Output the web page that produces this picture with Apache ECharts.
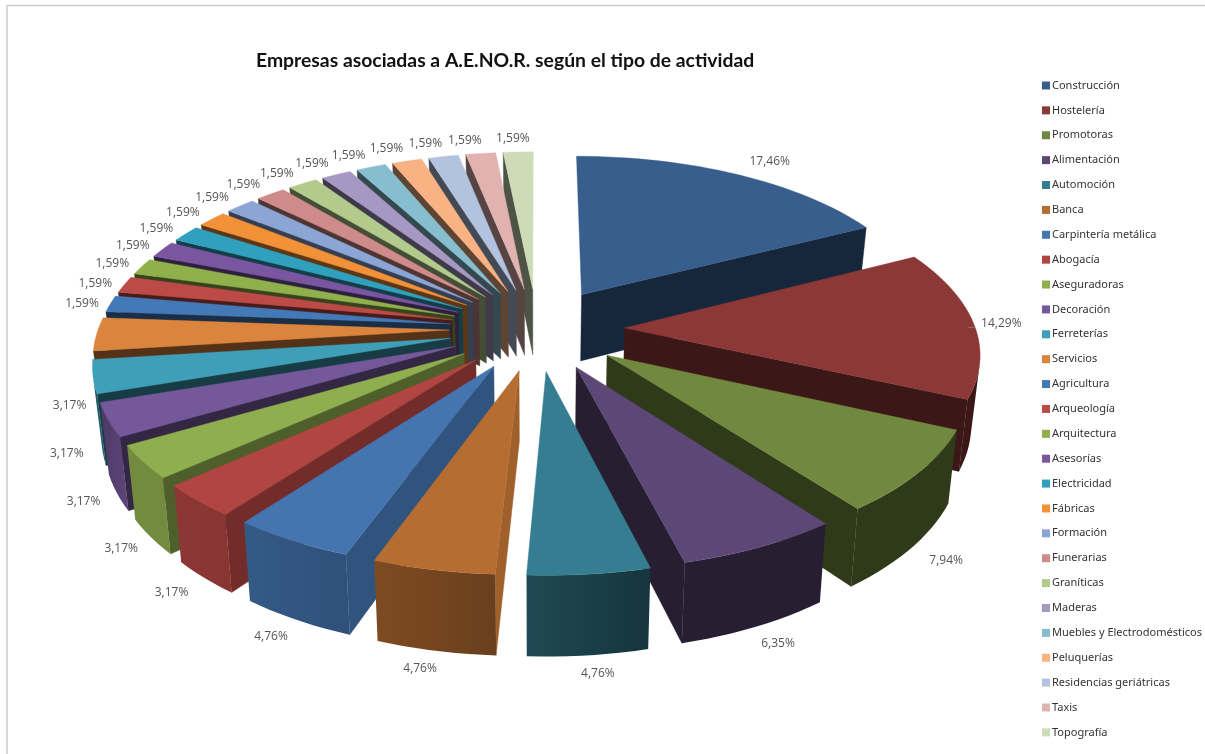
<!DOCTYPE html>
<html><head><meta charset="utf-8">
<style>html,body{margin:0;padding:0;background:#fff}#c{width:1205px;height:754px}</style>
<script src="https://cdn.jsdelivr.net/npm/echarts@6/dist/echarts.min.js"></script>
</head><body><div id="c"></div>
<script>
const categories = ['Construcción','Hostelería','Promotoras','Alimentación','Automoción','Banca','Carpintería metálica','Abogacía','Aseguradoras','Decoración','Ferreterías','Servicios','Agricultura','Arqueología','Arquitectura','Asesorías','Electricidad','Fábricas','Formación','Funerarias','Graníticas','Maderas','Muebles y Electrodomésticos','Peluquerías','Residencias geriátricas','Taxis','Topografía'];
const values = [11,9,5,4,3,3,3,2,2,2,2,2,1,1,1,1,1,1,1,1,1,1,1,1,1,1,1];
const colors = ['#375E8C','#8C3836','#71893F','#5C4776','#357D91','#B66D31','#4475B0','#B04542','#8FAE4E','#75589A','#3F9FB8','#DB843D','#4479B8','#BC4A47','#8FB04A','#7A55A0','#30A0BF','#F39138','#8BA5D4','#CE8B89','#B2CA8C','#A698C2','#86BDCF','#F8B283','#B2C3E0','#E2B2B1','#CDDCB6'];
const titleText = 'Empresas asociadas a A.E.NO.R. según el tipo de actividad';

const total = values.reduce((a,b)=>a+b,0);
let acc = 0;
const angles = values.map(v=>{const s=acc; acc+=v; return [s/total*2*Math.PI, acc/total*2*Math.PI];});

// projection of the tilted pie
const CX=537, CY=329, RX=351, RY=165, EXPL=0.25, PERSP=0.131, HEIGHT=68, BOTTOM=0.98;
function proj(u,v,down){
  const w=1/(1-PERSP*v);
  return [CX+u*w*RX*(down?BOTTOM:1), CY+v*w*RY+(down?HEIGHT*w:0)];
}
function shade(hex,f){
  const n=parseInt(hex.slice(1),16);
  const c=[n>>16,(n>>8)&255,n&255].map(x=>Math.round(x*f));
  return 'rgb('+c.join(',')+')';
}
function area(p){let s=0;for(let i=0;i<p.length;i++){const a=p[i],b=p[(i+1)%p.length];s+=a[0]*b[1]-b[0]*a[1];}return s/2;}
function lit(t){ // brightness of an outer wall from its facing direction
  const d=t*180/Math.PI;
  if(d<178) return 0.42;
  if(d<184) return 0.42+(d-178)/6*0.2;
  if(d<225) return 0.62+(d-184)/41*0.18;
  if(d<245) return 0.8;
  if(d<262) return 0.8-(d-245)/17*0.4;
  return 0.42;
}
function radialLit(mid){ // brightness of a start wall on the left half
  const d=mid*180/Math.PI;
  if(d<200) return 0.88;
  if(d<215) return 0.72;
  if(d<255) return 0.72-(d-215)/40*0.36;
  return 0.38;
}
const depthOrder = angles.map((a,i)=>[-Math.cos((a[0]+a[1])/2),i]).sort((a,b)=>a[0]-b[0]).map(x=>x[1]);
const rank = []; depthOrder.forEach((idx,r)=>rank[idx]=r);

function renderSlice(i){
  return function(params,api){
    const val=api.value(0);
    const [a0,a1]=angles[i], mid=(a0+a1)/2;
    const au=EXPL*Math.sin(mid), av=-EXPL*Math.cos(mid);
    const col=colors[i], kids=[];
    const P=(t,d)=>proj(au+Math.sin(t),av-Math.cos(t),d);
    const A=d=>proj(au,av,d);
    const poly=(pts,fill)=>kids.push({type:'polygon',shape:{points:pts},style:{fill:fill,stroke:fill,lineWidth:0.4}});
    // radial walls facing the viewer
    const q0=[A(false),P(a0,false),P(a0,true),A(true)];
    const q1=[A(false),A(true),P(a1,true),P(a1,false)];
    if(mid>Math.PI && area(q0)<0) poly(q0,shade(col,radialLit(mid)));
    if(mid<Math.PI && area(q1)<0) poly(q1,shade(col,0.42));
    // outer wall, as one piece over its visible part
    const n=Math.max(2,Math.ceil((a1-a0)/(Math.PI/90)));
    const up=[],dn=[]; let ts=null,te=null;
    for(let k=0;k<n;k++){
      const t0=a0+(a1-a0)*k/n,t1=a0+(a1-a0)*(k+1)/n;
      const q=[P(t0,false),P(t1,false),P(t1,true),P(t0,true)];
      if(area(q)<0){
        if(ts===null){ts=t0;up.push(P(t0,false));dn.push(P(t0,true));}
        te=t1;up.push(P(t1,false));dn.push(P(t1,true));
      }
    }
    if(ts!==null){
      const pts=up.concat(dn.reverse());
      const xa=P(ts,false)[0],xb=P(te,false)[0];
      const fill=new echarts.graphic.LinearGradient(xa<xb?0:1,0,xa<xb?1:0,0,[
        {offset:0,color:shade(col,lit(ts))},{offset:1,color:shade(col,lit(te))}]);
      kids.push({type:'polygon',shape:{points:pts},style:{fill:fill}});
    }
    // top
    const top=[A(false)];
    for(let k=0;k<=n;k++) top.push(P(a0+(a1-a0)*k/n,false));
    poly(top,col);
    // label
    const u=au+Math.sin(mid),v=av-Math.cos(mid);
    const side=Math.abs(mid-Math.PI/2)<0.1;
    const lt=proj(u,v,false), lb=proj(u,v,v>0&&!side);
    const c=Math.cos(mid);
    let extra=0;
    if(mid<Math.PI/2) extra=21*c;
    else if(mid>1.5*Math.PI) extra=-12*c*Math.min(1,(2*Math.PI-mid)/0.15);
    else if(mid<Math.PI&&!side) extra=6;
    else if(mid>Math.PI&&mid<1.3*Math.PI) extra=-8;
    kids.push({type:'text',z2:50,x:lt[0]+27*Math.sin(mid)+extra,y:lb[1]-15*c+(v>0?3:0)+(mid>1.5*Math.PI?2:0),
      style:{text:(val/total*100).toFixed(2).replace('.',',')+'%',fill:'#555',fontSize:12,fontFamily:'"Open Sans",sans-serif',align:'center',verticalAlign:'middle'}});
    if(side){ // short leader of the label beside the pie
      const yy=lb[1]-15*c+3;
      kids.push({type:'line',z2:50,shape:{x1:lt[0]-6,y1:yy+1,x2:lt[0]+1,y2:yy+1},style:{stroke:'#777',lineWidth:1}});
    }
    return {type:'group',children:kids};
  };
}

const chart=echarts.init(document.getElementById('c'),null,{renderer:'canvas'});
chart.setOption({
  animation:false,
  backgroundColor:'#fff',
  color:colors,
  title:{text:titleText,left:251,top:46,textStyle:{fontFamily:'Lato',fontWeight:'bold',fontSize:19.35,color:'#111'}},
  legend:{orient:'vertical',left:1037,top:74,itemWidth:8,itemHeight:8,itemGap:11.88,icon:'rect',selectedMode:false,
    textStyle:{fontFamily:'"Noto Sans"',fontSize:11,color:'#333',lineHeight:13,padding:[0,0,0,-3]},data:categories},
  graphic:[{type:'polyline',silent:true,shape:{points:[[7,754],[7,5.5],[1205,5.5]]},style:{stroke:'#ccc',lineWidth:1.5,fill:null}}],
  series:categories.map((name,i)=>({
    type:'custom',name:name,coordinateSystem:'none',z:2+rank[i],
    itemStyle:{color:colors[i]},
    data:[[values[i]]],
    renderItem:renderSlice(i)
  }))
});
</script></body></html>
